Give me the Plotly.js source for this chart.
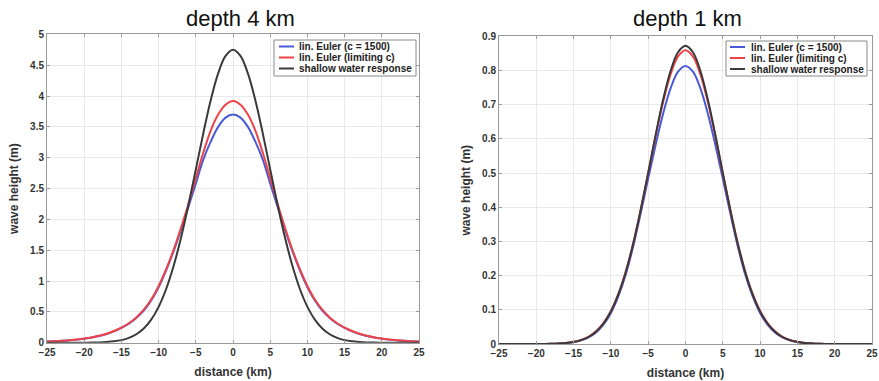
<!DOCTYPE html>
<html>
<head>
<meta charset="utf-8">
<script src="https://cdn.plot.ly/plotly-3.0.1.min.js"></script>
<style>html,body{margin:0;padding:0;background:#fff;}#chart{width:879px;height:381px;}</style>
</head>
<body>
<div id="chart"></div>
<script>
// distance (km)
const distance = [-25,-24,-23,-22,-21,-20,-19,-18,-17,-16,-15,-14,-13,-12,-11,-10,-9,-8,-7,-6,-5,-4,-3,-2,-1,0,1,2,3,4,5,6,7,8,9,10,11,12,13,14,15,16,17,18,19,20,21,22,23,24,25];

// depth 4 km
const deep_eulerC1500 = [0.019,0.024,0.031,0.039,0.050,0.065,0.083,0.108,0.140,0.183,0.24,0.308,0.40,0.52,0.685,0.90,1.17,1.48,1.83,2.20,2.58,2.97,3.26,3.50,3.65,3.70,3.65,3.50,3.26,2.97,2.58,2.20,1.83,1.48,1.17,0.90,0.685,0.52,0.40,0.308,0.24,0.183,0.140,0.108,0.083,0.065,0.050,0.039,0.031,0.024,0.019];
const deep_eulerLimiting = [0.020,0.025,0.032,0.041,0.052,0.067,0.086,0.112,0.145,0.19,0.245,0.315,0.41,0.535,0.70,0.92,1.19,1.50,1.86,2.25,2.67,3.08,3.44,3.70,3.86,3.92,3.86,3.70,3.44,3.08,2.67,2.25,1.86,1.50,1.19,0.92,0.70,0.535,0.41,0.315,0.245,0.19,0.145,0.112,0.086,0.067,0.052,0.041,0.032,0.025,0.020];
const deep_shallowWater = [0,0,0.0001,0.0002,0.0004,0.001,0.002,0.005,0.011,0.022,0.042,0.078,0.137,0.231,0.374,0.582,0.867,1.239,1.698,2.230,2.810,3.394,3.932,4.367,4.651,4.75,4.651,4.367,3.932,3.394,2.810,2.230,1.698,1.239,0.867,0.582,0.374,0.231,0.137,0.078,0.042,0.022,0.011,0.005,0.002,0.001,0.0004,0.0002,0.0001,0,0];

// depth 1 km
const shal_eulerC1500 = [0,0,0,0,0,0.0001,0.0003,0.0006,0.0014,0.0029,0.0056,0.0107,0.0195,0.034,0.057,0.091,0.140,0.204,0.287,0.383,0.484,0.583,0.674,0.748,0.797,0.814,0.797,0.748,0.674,0.583,0.484,0.383,0.287,0.204,0.140,0.091,0.057,0.034,0.0195,0.0107,0.0056,0.0029,0.0014,0.0006,0.0003,0.0001,0,0,0,0,0];
const shal_eulerLimiting = [0,0,0,0,0,0.0001,0.0003,0.0007,0.0015,0.0032,0.0063,0.0118,0.021,0.037,0.061,0.097,0.147,0.213,0.296,0.394,0.500,0.609,0.708,0.789,0.842,0.860,0.842,0.789,0.708,0.609,0.500,0.394,0.296,0.213,0.147,0.097,0.061,0.037,0.021,0.0118,0.0063,0.0032,0.0015,0.0007,0.0003,0.0001,0,0,0,0,0];
const shal_shallowWater = [0,0,0,0,0,0.0001,0.0003,0.0006,0.0014,0.003,0.0059,0.0113,0.0205,0.036,0.060,0.095,0.145,0.211,0.294,0.393,0.501,0.612,0.715,0.799,0.854,0.873,0.854,0.799,0.715,0.612,0.501,0.393,0.294,0.211,0.145,0.095,0.060,0.036,0.0205,0.0113,0.0059,0.003,0.0014,0.0006,0.0003,0.0001,0,0,0,0,0];

const seriesNames = ['lin. Euler (c = 1500)', 'lin. Euler (limiting c)', 'shallow water response'];
const seriesColors = ['#4a5ad6', '#ee4347', '#3a3a3a'];
const panelTitles = ['depth 4 km', 'depth 1 km'];
const xTitle = 'distance (km)';
const yTitle = 'wave height (m)';

const W = 879, H = 381;
const px = v => v / W;
const py = v => 1 - v / H;

const panels = [
  {ys: [deep_eulerC1500, deep_eulerLimiting, deep_shallowWater], xa: 'x', ya: 'y',
   legendBox: [274, 416, 40, 76], rows: [46.5, 57.5, 68.5], lineX: [279, 294], textX: 297},
  {ys: [shal_eulerC1500, shal_eulerLimiting, shal_shallowWater], xa: 'x2', ya: 'y2',
   legendBox: [726, 867, 41, 76], rows: [47, 58, 69], lineX: [730, 745], textX: 749}
];

const traces = [];
const shapes = [];
const annotations = [];
const legFont = {family: 'Liberation Sans, Arial, sans-serif', size: 10, color: '#222', weight: 'bold'};

panels.forEach((p, k) => {
  p.ys.forEach((y, i) => {
    traces.push({
      x: distance, y: y, type: 'scatter', mode: 'lines',
      name: seriesNames[i], xaxis: p.xa, yaxis: p.ya, showlegend: false,
      line: {color: seriesColors[i], width: 2, shape: 'spline', smoothing: 1},
      hoverinfo: 'skip'
    });
  });
  const b = p.legendBox;
  shapes.push({type: 'rect', xref: 'paper', yref: 'paper', x0: px(b[0]), x1: px(b[1]), y0: py(b[3]), y1: py(b[2]),
    line: {color: '#8a8a8a', width: 1}, fillcolor: '#ffffff', layer: 'above'});
  seriesNames.forEach((nm, i) => {
    shapes.push({type: 'line', xref: 'paper', yref: 'paper', x0: px(p.lineX[0]), x1: px(p.lineX[1]),
      y0: py(p.rows[i]), y1: py(p.rows[i]), line: {color: seriesColors[i], width: 2}, layer: 'above'});
    annotations.push({text: nm, xref: 'paper', yref: 'paper', x: px(p.textX), y: py(p.rows[i]),
      xanchor: 'left', yanchor: 'middle', showarrow: false, font: legFont});
  });
});

[240, 687].forEach((cx, k) => {
  annotations.push({text: panelTitles[k], x: px(cx), y: py(18), xref: 'paper', yref: 'paper', showarrow: false,
    xanchor: 'center', yanchor: 'middle', font: {family: 'Liberation Sans, Arial, sans-serif', size: 22, color: '#111'}});
});

const tickFont = {family: 'Liberation Sans, Arial, sans-serif', size: 10, color: '#333', weight: 'bold'};
const axTitleFont = {family: 'Liberation Sans, Arial, sans-serif', size: 12, color: '#333', weight: 'bold'};

function xax(domain, anchor) {
  return {
    domain: domain, anchor: anchor, range: [-25, 25], dtick: 5, tick0: 0,
    showline: true, linecolor: '#9a9a9a', linewidth: 1, mirror: 'ticks',
    ticks: 'inside', ticklen: 3, tickcolor: '#9a9a9a',
    showgrid: true, gridcolor: '#e9e9e9', gridwidth: 1, zeroline: false,
    tickfont: tickFont,
    title: {text: xTitle, font: axTitleFont, standoff: 10}
  };
}
function yax(domain, anchor, range, dtick) {
  return {
    domain: domain, anchor: anchor, range: range, dtick: dtick, tick0: 0,
    showline: true, linecolor: '#9a9a9a', linewidth: 1, mirror: 'ticks',
    ticks: 'inside', ticklen: 3, tickcolor: '#9a9a9a',
    showgrid: true, gridcolor: '#e9e9e9', gridwidth: 1, zeroline: false,
    tickfont: tickFont,
    title: {text: yTitle, font: axTitleFont, standoff: 8}
  };
}

const layout = {
  width: W, height: H,
  margin: {l: 0, r: 0, t: 0, b: 0},
  paper_bgcolor: '#ffffff', plot_bgcolor: '#ffffff',
  showlegend: false,
  xaxis: xax([0.0535, 0.4767], 'y'),
  yaxis: yax([0.1005, 0.9097], 'x', [0, 5], 0.5),
  xaxis2: xax([0.5677, 0.992], 'y2'),
  yaxis2: yax([0.0971, 0.9042], 'x2', [0, 0.9], 0.1),
  shapes: shapes,
  annotations: annotations
};

Plotly.newPlot('chart', traces, layout, {staticPlot: true, displayModeBar: false});
</script>
</body>
</html>
